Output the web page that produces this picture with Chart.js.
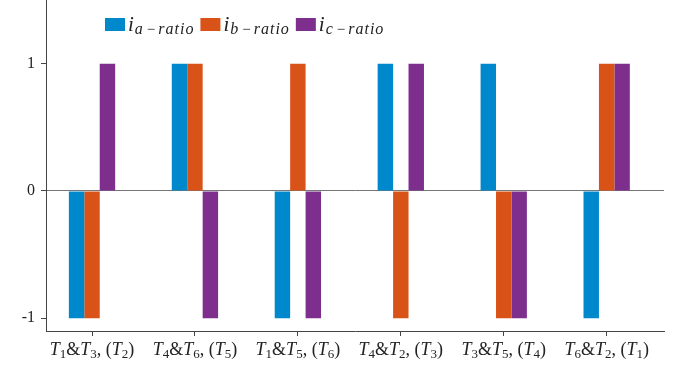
<!DOCTYPE html>
<html>
<head>
<meta charset="utf-8">
<script src="https://cdn.jsdelivr.net/npm/chart.js@4"></script>
<style>body{margin:0;background:#fff}</style>
</head>
<body>
<canvas id="ratioChart" width="674" height="368"></canvas>
<script>
var categories = ['T_1&T_3,(T_2)', 'T_4&T_6,(T_5)', 'T_1&T_5,(T_6)', 'T_4&T_2,(T_3)', 'T_3&T_5,(T_4)', 'T_6&T_2,(T_1)'];
var seriesNames = ['i_a-ratio', 'i_b-ratio', 'i_c-ratio'];
var iaRatio = [-1, 1, -1, 1, 1, -1];
var ibRatio = [-1, 1, 1, -1, -1, 1];
var icRatio = [1, -1, -1, 1, -1, 1];
var yTicks = [-1, 0, 1];

var blue = '#0088cc', orange = '#d95319', purple = '#7e2f8e';
var serif = '"Liberation Serif", "DejaVu Serif", serif';

function points(values) {
    return values.map(function (v, i) { return {x: i + 1, y: v}; });
}

// 'T_1&T_3,(T_2)' -> runs of text with their own font
function labelRuns(text) {
    var runs = [];
    for (var i = 0; i < text.length; i++) {
        var c = text[i];
        if (c === '_') { runs.push({t: text[i + 1], font: '13px ' + serif, dy: 3}); i++; }
        else if (c === 'T') runs.push({t: c, font: 'italic 18px ' + serif, dy: 0});
        else if (c === ',') runs.push({t: ', ', font: '18px ' + serif, dy: 0});
        else runs.push({t: c, font: '18px ' + serif, dy: 0});
    }
    return runs;
}

// 'i_a-ratio' -> big italic i with a spaced-out subscript
function legendRuns(text) {
    var parts = text.split('_');
    var sub = parts[1].split('-');
    return [
        {t: parts[0], font: 'italic 21px ' + serif, dy: 0, sp: 1},
        {t: sub[0], font: 'italic 16px ' + serif, dy: 3, sp: 1},
        {t: '\u2009\u2212\u2009', font: '15px ' + serif, dy: 3, sp: 0},
        {t: sub[1], font: 'italic 16px ' + serif, dy: 3, sp: 1}
    ];
}

function drawRuns(ctx, runs, x, y, align) {
    var w = 0;
    runs.forEach(function (r) {
        ctx.font = r.font;
        r.w = 0;
        r.t.split('').forEach(function (ch) { r.w += ctx.measureText(ch).width + (r.sp || 0); });
        w += r.w;
    });
    var cx = align === 'center' ? x - w / 2 : x;
    runs.forEach(function (r) {
        ctx.font = r.font;
        r.t.split('').forEach(function (ch) {
            ctx.fillText(ch, cx, y + r.dy);
            cx += ctx.measureText(ch).width + (r.sp || 0);
        });
    });
    return w;
}

var richText = {
    id: 'richText',
    afterDraw: function (chart) {
        var ctx = chart.ctx, xs = chart.scales.x;
        ctx.save();
        ctx.textBaseline = 'alphabetic';
        ctx.textAlign = 'left';
        ctx.fillStyle = '#222';
        categories.forEach(function (c, i) {
            drawRuns(ctx, labelRuns(c), xs.getPixelForValue(i + 1), xs.top + 24, 'center');
        });
        var lx = 105;
        chart.data.datasets.forEach(function (ds, i) {
            ctx.fillStyle = ds.backgroundColor;
            ctx.fillRect(lx, 18, 20, 13);
            ctx.fillStyle = '#222';
            lx += 23;
            lx += drawRuns(ctx, legendRuns(seriesNames[i]), lx, 31, 'left') + 6;
        });
        ctx.restore();
    }
};

var ratioChart = new Chart(document.getElementById('ratioChart').getContext('2d'), {
    type: 'bar',
    data: {
        datasets: [
            {label: seriesNames[0], data: points(iaRatio), backgroundColor: blue},
            {label: seriesNames[1], data: points(ibRatio), backgroundColor: orange},
            {label: seriesNames[2], data: points(icRatio), backgroundColor: purple}
        ]
    },
    options: {
        responsive: false,
        animation: false,
        categoryPercentage: 0.45,
        barPercentage: 1,
        layout: {padding: {top: 0, right: 10, left: 0, bottom: 0}},
        plugins: {legend: {display: false}, tooltip: {enabled: false}},
        scales: {
            x: {
                type: 'linear', min: 0.553, max: 6.557, offset: false,
                afterBuildTicks: function (s) { s.ticks = categories.map(function (c, i) { return {value: i + 1}; }); },
                afterFit: function (s) { s.height = 37; s.paddingLeft = 0; s.paddingRight = 0; },
                ticks: {display: false},
                grid: {offset: false, drawOnChartArea: false, tickLength: 5, tickColor: '#444'},
                border: {color: '#444'}
            },
            y: {
                min: -1.1, max: 1.5,
                afterBuildTicks: function (s) { s.ticks = yTicks.map(function (v) { return {value: v}; }); },
                afterFit: function (s) { s.width = 46; s.paddingTop = 0; s.paddingBottom = 0; },
                ticks: {color: '#222', font: {family: serif, size: 16}, padding: 6},
                grid: {
                    color: function (c) { return c.tick && c.tick.value === 0 ? '#777' : 'transparent'; },
                    tickLength: 5, tickColor: '#444'
                },
                border: {color: '#444'}
            }
        }
    },
    plugins: [richText]
});
</script>
</body>
</html>
